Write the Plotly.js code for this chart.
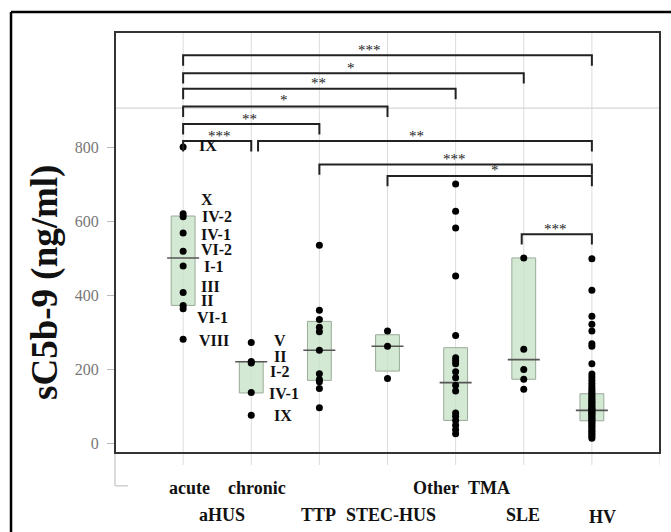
<!DOCTYPE html>
<html><head><meta charset="utf-8">
<script src="https://cdn.plot.ly/plotly-3.0.1.min.js"></script>
<style>html,body{margin:0;padding:0;background:#fff}#chart{width:671px;height:532px}</style>
</head><body><div id="chart"></div>
<script>
// ---- data ----
const categories = ["acute aHUS", "chronic aHUS", "TTP", "STEC-HUS", "Other TMA", "SLE", "HV"];
const acuteAHUS = [800, 620, 612, 568, 519, 479, 408, 373, 364, 282];
const acuteLabels = ["IX", "X", "IV-2", "IV-1", "VI-2", "I-1", "III", "II", "VI-1", "VIII"];
const chronicAHUS = [273, 222, 218, 138, 77];
const chronicLabels = ["V", "II", "I-2", "IV-1", "IX"];
const ttp = [535, 360, 335, 314, 302, 252, 189, 173, 167, 149, 97];
const stecHUS = [304, 263, 176];
const otherTMA = [700, 627, 582, 452, 292, 232, 224, 216, 194, 178, 158, 142, 83, 74, 63, 50, 38, 27];
const sle = [501, 255, 200, 174, 147];
const hv = [499, 414, 344, 322, 304, 270, 263, 216, 188, 180, 171, 163, 156, 149, 143, 138, 133, 128, 123, 119, 115, 111, 107, 103, 99, 96, 93, 90, 87, 84, 81, 78, 75, 71, 67, 64, 60, 56, 52, 47, 43, 38, 34, 29, 25, 20, 15];
const q1 = [373, 137, 171, 196, 63, 174, 62];
const median = [501, 221, 252, 263, 165, 227, 90];
const q3 = [614, 222, 330, 294, 259, 501, 135];
const yTicks = [0, 200, 400, 600, 800];
// comparisons: [fromGroup, toGroup, significance]
const comparisons = [
  [0, 6, "***"], [0, 5, "*"], [0, 4, "**"], [0, 3, "*"], [0, 2, "**"],
  [0, 1, "***"], [1, 6, "**"], [2, 6, "***"], [3, 6, "*"], [5, 6, "***"]
];

// ---- layout positions (not data) ----
const bracketLevel = [1047, 999, 957, 909, 862, 816, 816, 753, 722, 565];
const bracketX = [[0, 6], [0, 5], [0, 4], [0, 3], [0, 2], [0, 1], [1.1, 6], [2, 6], [3, 6], [4.97, 6]];
const starPos = [[2.74, 1061], [2.46, 1013], [1.99, 972], [1.48, 926], [0.98, 876], [0.53, 829], [3.42, 829], [3.99, 767], [4.58, 737], [5.46, 578]];
const tickLen = 28;
const acuteLabelPos = [[0.2, 805], [0.23, 659], [0.25, 614], [0.23, 565], [0.23, 524], [0.28, 477], [0.23, 423], [0.23, 387], [0.18, 341], [0.2, 279]];
const chronicLabelPos = [[1.3, 279], [1.3, 234], [1.25, 195], [1.23, 136], [1.3, 77]];
const xLabelRows = [
  ["acute", 0.09, -0.083], ["chronic", 1.08, -0.083], ["Other&nbsp;&nbsp;TMA", 4.08, -0.083],
  ["aHUS", 0.57, -0.147], ["TTP", 1.98, -0.147], ["STEC-HUS", 3.05, -0.147], ["SLE", 4.99, -0.147], ["HV", 6.15, -0.152]
];

const groups = [acuteAHUS, chronicAHUS, ttp, stecHUS, otherTMA, sle, hv];
const serif = "Liberation Serif, Times New Roman, serif";

const traces = [];
// boxes
traces.push({
  type: "bar", x: categories.map((c, i) => i), base: q1, y: q3.map((v, i) => v - q1[i]),
  width: 0.35, marker: {color: "rgba(200,228,200,0.8)", line: {color: "#9aaa9a", width: 1}},
  hoverinfo: "skip", showlegend: false
});
// medians
const mx = [], my = [];
median.forEach((m, i) => { mx.push(i - 0.235, i + 0.235, null); my.push(m, m, null); });
traces.push({type: "scatter", mode: "lines", x: mx, y: my, line: {color: "#555", width: 1.6}, showlegend: false, hoverinfo: "skip"});
// points
groups.forEach((g, i) => {
  traces.push({type: "scatter", mode: "markers", name: categories[i], x: g.map(() => i), y: g,
    marker: {color: "#000", size: 7}, showlegend: false});
});

const shapes = [];
// vertical gridlines
for (let i = 0; i < categories.length; i++) {
  shapes.push({type: "line", xref: "x", yref: "paper", x0: i, x1: i, y0: -0.0285, y1: 1, line: {color: "#dcdcdc", width: 1}, layer: "below"});
}
shapes.push({type: "line", xref: "x", yref: "paper", x0: 7, x1: 7, y0: -0.0285, y1: 0, line: {color: "#dcdcdc", width: 1}, layer: "below"});
// horizontal gray line
shapes.push({type: "line", xref: "paper", yref: "y", x0: 0, x1: 1, y0: 905, y1: 905, line: {color: "#d6d6d6", width: 1.2}, layer: "below"});
// axis extension below frame
shapes.push({type: "line", xref: "paper", yref: "paper", x0: 0, x1: 0, y0: 0, y1: -0.078, line: {color: "#c4c4c4", width: 1.2}});
shapes.push({type: "line", xref: "paper", yref: "paper", x0: 0, x1: 0.024, y0: -0.078, y1: -0.078, line: {color: "#c4c4c4", width: 1.2}});
// frame
shapes.push({type: "rect", xref: "paper", yref: "paper", x0: 0, x1: 1, y0: 0, y1: 1, line: {color: "#333", width: 2}, layer: "above"});
// outer border (left + top)
shapes.push({type: "line", xref: "paper", yref: "paper", x0: -0.1908, x1: -0.1908, y0: 1.0475, y1: -0.19, line: {color: "#000", width: 2.5}});
shapes.push({type: "line", xref: "paper", yref: "paper", x0: -0.1908, x1: 1.03, y0: 1.0475, y1: 1.0475, line: {color: "#000", width: 2.5}});
// brackets
comparisons.forEach((c, k) => {
  const [a, b] = bracketX[k]; const lv = bracketLevel[k];
  shapes.push({type: "path", xref: "x", yref: "y",
    path: `M ${a} ${lv - tickLen} L ${a} ${lv} L ${b} ${lv} L ${b} ${lv - tickLen}`,
    line: {color: "#222", width: 2}});
});

const annotations = [];
comparisons.forEach((c, k) => {
  annotations.push({xref: "x", yref: "y", x: starPos[k][0], y: starPos[k][1], text: c[2], showarrow: false,
    xanchor: "center", yanchor: "middle", font: {family: serif, size: 15, color: "#222"}});
});
acuteLabels.forEach((t, k) => {
  annotations.push({xref: "x", yref: "y", x: acuteLabelPos[k][0], y: acuteLabelPos[k][1], text: "<b>" + t + "</b>",
    showarrow: false, xanchor: "left", yanchor: "middle", font: {family: serif, size: 16, color: "#111"}});
});
chronicLabels.forEach((t, k) => {
  annotations.push({xref: "x", yref: "y", x: chronicLabelPos[k][0], y: chronicLabelPos[k][1], text: "<b>" + t + "</b>",
    showarrow: false, xanchor: "left", yanchor: "middle", font: {family: serif, size: 16, color: "#111"}});
});
xLabelRows.forEach(r => {
  annotations.push({xref: "x", yref: "paper", x: r[1], y: r[2], text: "<b>" + r[0] + "</b>", showarrow: false,
    xanchor: "center", yanchor: "middle", font: {family: serif, size: 18, color: "#111"}});
});
annotations.push({xref: "paper", yref: "paper", x: -0.1284, y: 0.404, text: "<b>sC5b-9 (ng/ml)</b>", textangle: -90,
  showarrow: false, xanchor: "center", yanchor: "middle", font: {family: serif, size: 37, color: "#111"}});

const layout = {
  width: 671, height: 532, margin: {l: 115, r: 11, t: 32, b: 79},
  paper_bgcolor: "#fff", plot_bgcolor: "#fff", showlegend: false, bargap: 0,
  xaxis: {range: [-1, 7], showgrid: false, zeroline: false, showticklabels: false, ticks: "", showline: false},
  yaxis: {range: [-24.8, 1110], tickvals: yTicks, ticktext: yTicks.map(String), ticks: "outside", ticklen: 7, tickcolor: "#bbb",
    ticklabelstandoff: 5, tickfont: {family: serif, size: 16, color: "#777"}, showgrid: false, zeroline: false, showline: false},
  shapes: shapes, annotations: annotations
};
Plotly.newPlot("chart", traces, layout, {displayModeBar: false, staticPlot: true});
</script>
</body></html>
